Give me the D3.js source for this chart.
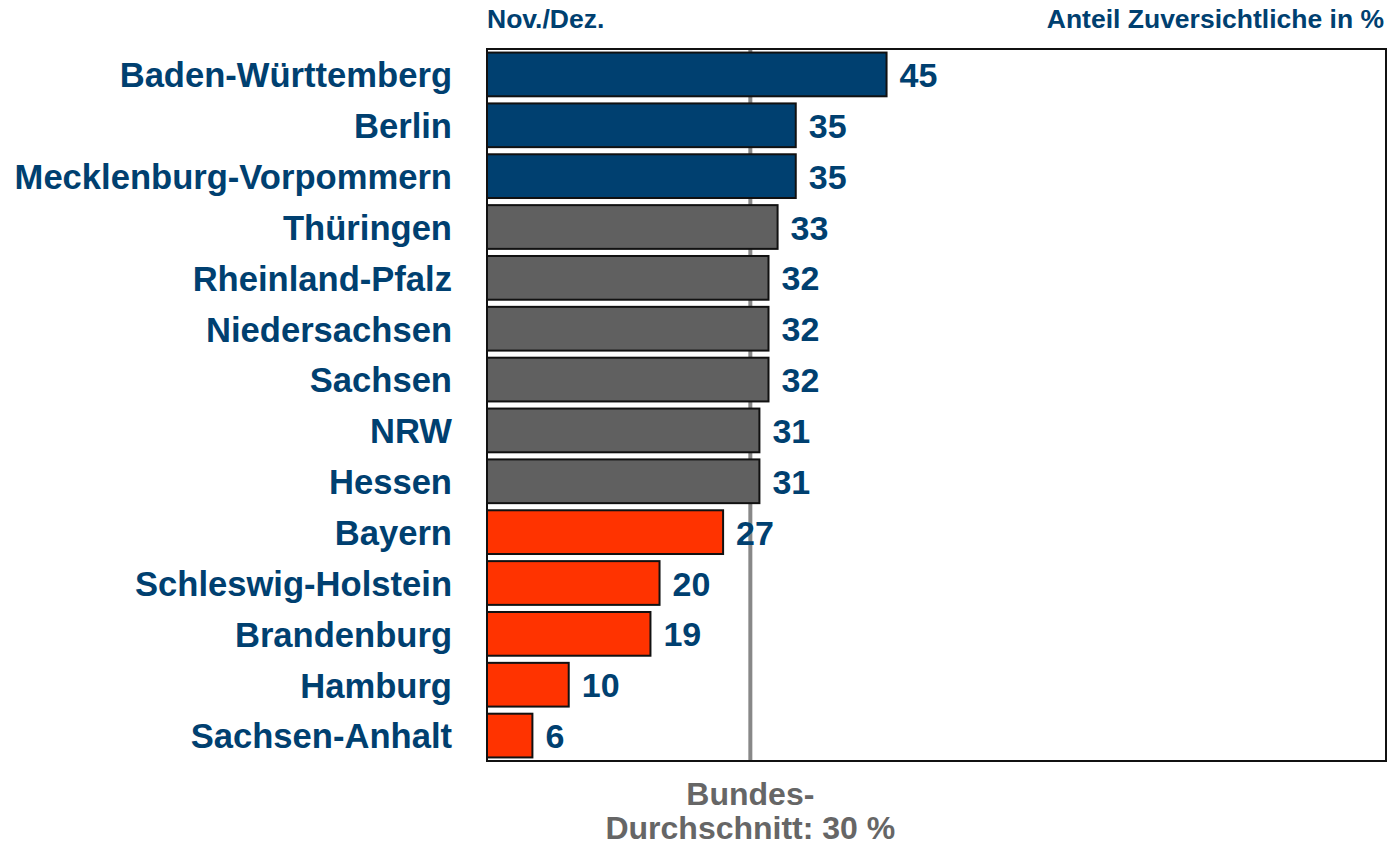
<!DOCTYPE html>
<html>
<head>
<meta charset="utf-8">
<script src="https://cdn.jsdelivr.net/npm/d3@7"></script>
<style>
  body { margin: 0; background: #fff; }
  text { font-family: "Liberation Sans", Arial, sans-serif; font-weight: bold; }
</style>
</head>
<body>
<div id="chart"></div>
<script>
var width = 1387;
var height = 845;

// data
var states = ["Baden-Württemberg", "Berlin", "Mecklenburg-Vorpommern", "Thüringen",
  "Rheinland-Pfalz", "Niedersachsen", "Sachsen", "NRW", "Hessen", "Bayern",
  "Schleswig-Holstein", "Brandenburg", "Hamburg", "Sachsen-Anhalt"];
var values = [45, 35, 35, 33, 32, 32, 32, 31, 31, 27, 20, 19, 10, 6];
var groups = ["top", "top", "top", "mid", "mid", "mid", "mid", "mid", "mid",
  "low", "low", "low", "low", "low"];
var average = 30;

var navy = "#004070";
var colors = { top: "#004070", mid: "#606060", low: "#ff3300" };

var margin = { top: 49, right: 1, bottom: 84, left: 487 };
var plotW = width - margin.left - margin.right;
var plotH = height - margin.top - margin.bottom;

var svg = d3.select("#chart")
  .append("svg")
  .attr("width", width)
  .attr("height", height);

var g = svg.append("g")
  .attr("transform", "translate(" + margin.left + "," + margin.top + ")");

var x = d3.scaleLinear()
  .domain([1, 100])
  .range([0, plotW]);

var y = d3.scaleBand()
  .domain(states)
  .range([0, plotH])
  .paddingInner(0.14)
  .paddingOuter(0.07);

// average line (behind bars)
g.append("line")
  .attr("x1", x(average)).attr("x2", x(average))
  .attr("y1", 0).attr("y2", plotH)
  .attr("stroke", "#888")
  .attr("stroke-width", 4);

// bars
g.selectAll("rect.bar")
  .data(states)
  .enter()
  .append("rect")
  .attr("class", "bar")
  .attr("x", 0)
  .attr("y", function(d) { return y(d); })
  .attr("width", function(d, i) { return x(values[i]); })
  .attr("height", y.bandwidth())
  .attr("fill", function(d, i) { return colors[groups[i]]; })
  .attr("stroke", "#111")
  .attr("stroke-width", 2);

// value labels
g.selectAll("text.val")
  .data(states)
  .enter()
  .append("text")
  .attr("class", "val")
  .attr("x", function(d, i) { return x(values[i]) + 13; })
  .attr("y", function(d) { return y(d) + y.bandwidth() / 2; })
  .attr("dy", "0.37em")
  .attr("fill", navy)
  .style("font-size", "34px")
  .text(function(d, i) { return values[i]; });

// category labels
g.selectAll("text.cat")
  .data(states)
  .enter()
  .append("text")
  .attr("class", "cat")
  .attr("x", -35)
  .attr("y", function(d) { return y(d) + y.bandwidth() / 2; })
  .attr("dy", "0.37em")
  .attr("text-anchor", "end")
  .attr("fill", navy)
  .style("font-size", "34.6px")
  .text(function(d) { return d; });

// frame: top, right, bottom and left axis
g.append("path")
  .attr("d", "M0,0H" + plotW + "V" + plotH + "H0Z")
  .attr("fill", "none")
  .attr("stroke", "#111")
  .attr("stroke-width", 2);

// header texts
svg.append("text")
  .attr("x", margin.left)
  .attr("y", 28)
  .attr("fill", navy)
  .style("font-size", "26.5px")
  .text("Nov./Dez.");

svg.append("text")
  .attr("x", width - 3)
  .attr("y", 28)
  .attr("text-anchor", "end")
  .attr("fill", navy)
  .style("font-size", "26.5px")
  .text("Anteil Zuversichtliche in %");

// average caption
var cap = svg.append("text")
  .attr("x", margin.left + x(average))
  .attr("text-anchor", "middle")
  .attr("fill", "#666")
  .style("font-size", "32px");
cap.append("tspan").attr("x", margin.left + x(average)).attr("y", 805).text("Bundes-");
cap.append("tspan").attr("x", margin.left + x(average)).attr("y", 839).text("Durchschnitt: 30 %");
</script>
</body>
</html>
